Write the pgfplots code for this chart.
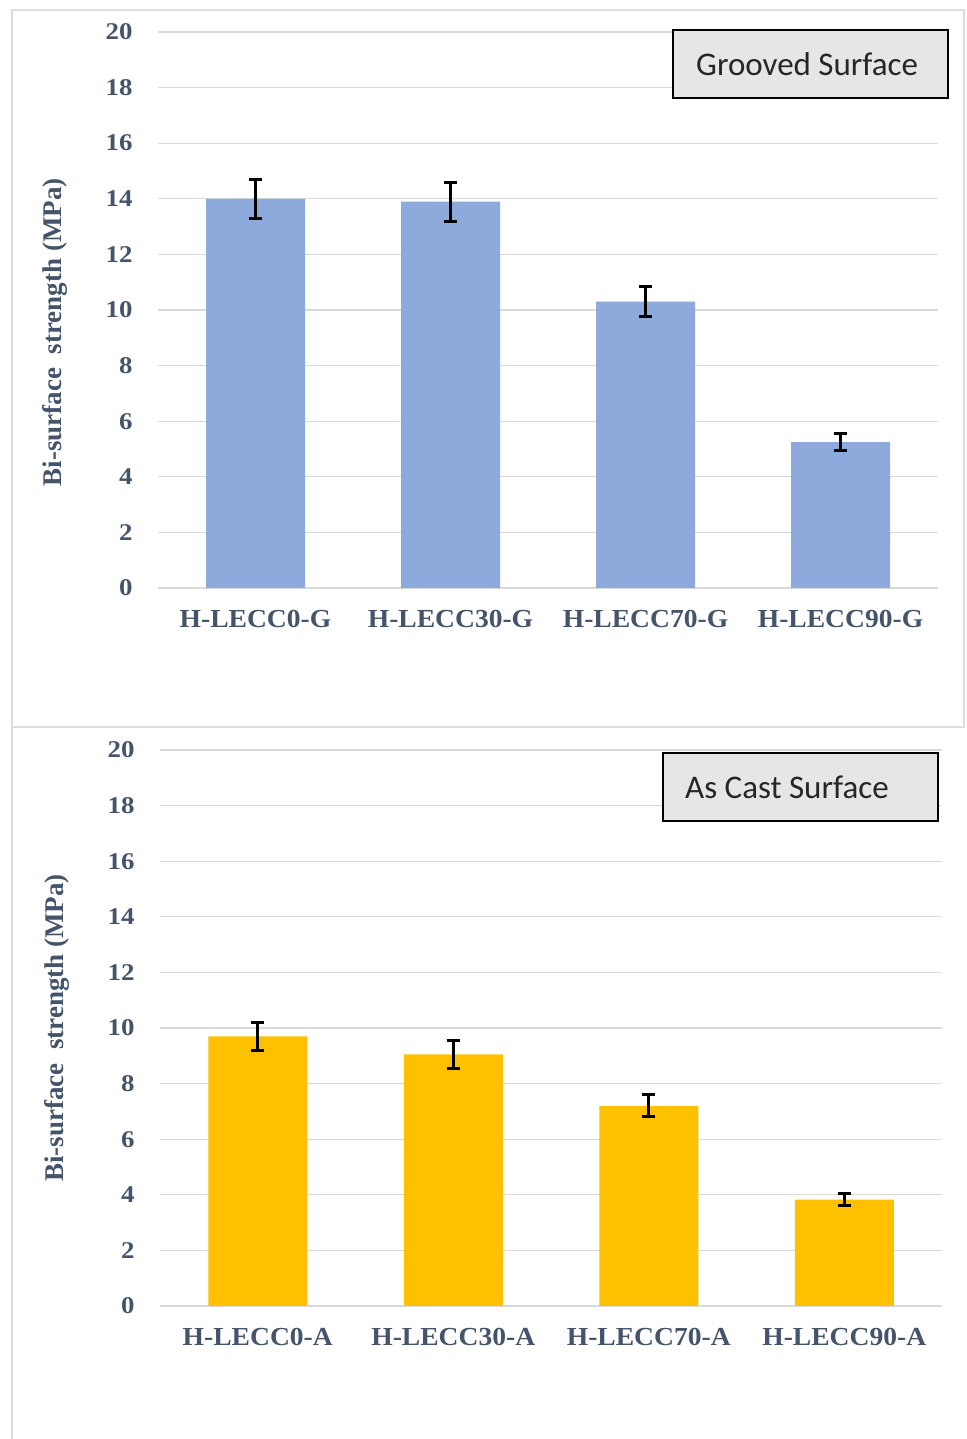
\documentclass[border=0pt]{standalone}
\usepackage{pgfplots}
\pgfplotsset{compat=1.18}
\usepackage{pgfplotstable}
\usepackage{fontspec}
\setmainfont{Liberation Serif}
\newfontfamily\tickfont[FakeStretch=1.12]{Liberation Serif}
\newfontfamily\xlabfont[FakeStretch=1.06]{Liberation Serif}
\newfontfamily\boxfont{Carlito}
\definecolor{txt}{HTML}{44546A}
\definecolor{gridc}{HTML}{D9D9D9}
\definecolor{frame}{HTML}{D9DEE6}
\definecolor{barblue}{HTML}{8EA9DB}
\definecolor{baryel}{HTML}{FFC000}
\definecolor{boxfill}{HTML}{E7E6E6}

\pgfplotstableread{
x y e
0 14.0 0.70
1 13.9 0.70
2 10.3 0.55
3 5.25 0.30
}\grooved
\pgfplotstableread{
x y e
0 9.70 0.50
1 9.05 0.50
2 7.20 0.40
3 3.83 0.22
}\ascast

\pgfplotsset{
  myaxis/.style={
    scale only axis,
    anchor=south west,
    ymin=0, ymax=20, ytick={0,2,...,20},
    xmin=-0.5, xmax=3.5, xtick={0,1,2,3},
    enlargelimits=false,
    axis line style={draw=none},
    major tick length=0pt,
    ymajorgrids,
    major grid style={color=gridc, line width=1.3bp},
    /pgf/number format/assume math mode=true,
    yticklabel style={font=\tickfont\bfseries\fontsize{24bp}{28bp}\selectfont, text=txt, anchor=east, xshift=-22bp},
    xticklabel style={font=\xlabfont\bfseries\fontsize{26bp}{30bp}\selectfont, text=txt, anchor=north, yshift=-19bp},
    label style={font=\bfseries\fontsize{27bp}{31bp}\selectfont, text=txt},
    bar width=99bp,
  },
  myerr/.style={
    error bars/.cd, y dir=both, y explicit,
    error bar style={line width=3bp, black},
    error mark options={rotate=90, mark size=6.5bp, line width=3bp, black},
  },
}

\begin{document}
\begin{tikzpicture}[x=1bp,y=1bp]
\useasboundingbox (0,0) rectangle (966,1439);
% panel frames
\draw[frame, line width=1.3bp] (12,1429) rectangle (964,712);
\draw[frame, line width=1.3bp] (12,712) -- (12,0);

\begin{axis}[myaxis,
  at={(158bp,851bp)}, width=780bp, height=556bp,
  xticklabels={H-LECC0-G,H-LECC30-G,H-LECC70-G,H-LECC90-G},
  ylabel={Bi-surface\ \ strength (MPa)},
  ylabel style={at={(axis description cs:-0.132,0.46)}, anchor=center},
]
\addplot[ybar, fill=barblue, draw=none, myerr] table[x=x, y=y, y error=e]{\grooved};
\end{axis}

\begin{axis}[myaxis,
  at={(160bp,133bp)}, width=782bp, height=556bp,
  xticklabels={H-LECC0-A,H-LECC30-A,H-LECC70-A,H-LECC90-A},
  ylabel={Bi-surface\ \ strength (MPa)},
  ylabel style={at={(axis description cs:-0.132,0.50)}, anchor=center},
]
\addplot[ybar, fill=baryel, draw=none, myerr] table[x=x, y=y, y error=e]{\ascast};
\end{axis}

% text boxes
\draw[fill=boxfill, draw=black, line width=1.5bp] (673,1409) rectangle (948,1341);
\node[anchor=west, inner sep=0pt, font=\boxfont\fontsize{33bp}{37bp}\selectfont, text=black!85] at (696,1375) {Grooved Surface};
\draw[fill=boxfill, draw=black, line width=1.5bp] (663,686) rectangle (938,618);
\node[anchor=west, inner sep=0pt, font=\boxfont\fontsize{33bp}{37bp}\selectfont, text=black!85] at (685,652) {As Cast Surface};
\end{tikzpicture}
\end{document}
